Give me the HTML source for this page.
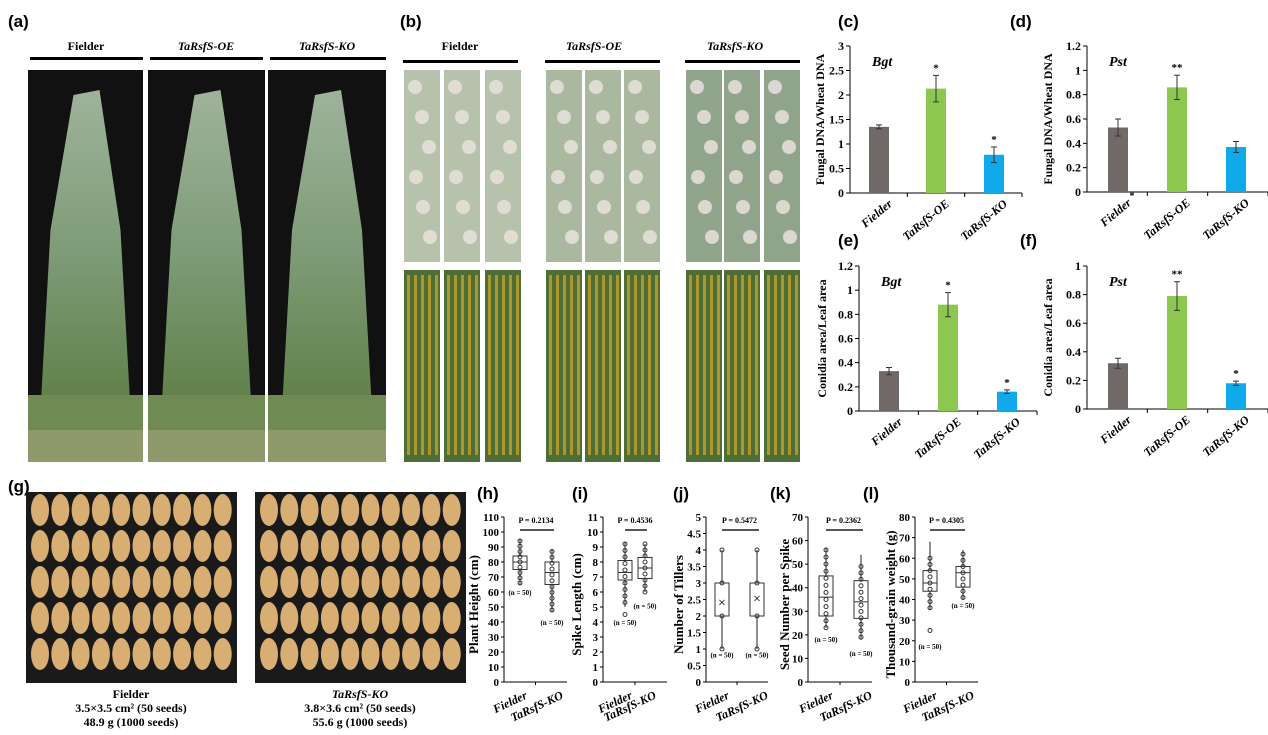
<!DOCTYPE html>
<html><head><meta charset="utf-8"><style>
html,body{margin:0;padding:0;background:#fff}
svg{display:block;font-family:"Liberation Serif",serif}
</style></head><body>
<svg id="s" width="1268" height="735" viewBox="0 0 1268 735" xmlns="http://www.w3.org/2000/svg"></svg>
<script>
const s=document.getElementById('s');let h='';
function t(x,y,str,o={}){h+=`<text x="${x}" y="${y}" font-size="${o.fs||13}" ${o.it?'font-style="italic"':''} font-weight="${o.w||'bold'}" text-anchor="${o.a||'middle'}" fill="${o.c||'#000'}" ${o.r!=null?`transform="rotate(${o.r} ${x} ${y})"`:''} ${o.ff?`font-family="${o.ff}"`:''}>${str}</text>`;}
function r(x,y,w,hh,c,ex=''){h+=`<rect x="${x}" y="${y}" width="${w}" height="${hh}" fill="${c}" ${ex}/>`;}
function l(x1,y1,x2,y2,c='#000',w=1){h+=`<line x1="${x1}" y1="${y1}" x2="${x2}" y2="${y2}" stroke="${c}" stroke-width="${w}"/>`;}
const SANS='Liberation Sans';
t(8,27,'(a)',{fs:17,a:'start',ff:SANS});
[[86,30,143,'Fielder',0],[206,150,263,'TaRsfS-OE',1],[327,270,386,'TaRsfS-KO',1]].forEach(g=>{t(g[0],50,g[3],{fs:12,it:g[4]});r(g[1],57,g[2]-g[1],3,'#000');});
[[28,143],[148,265],[268,386]].forEach(p=>{
 r(p[0],70,p[1]-p[0],392,'#111');
 h+=`<defs><linearGradient id="g${p[0]}" x1="0" y1="0" x2="0" y2="1"><stop offset="0" stop-color="#9fb39a"/><stop offset=".5" stop-color="#7e9c78"/><stop offset="1" stop-color="#5f7f47"/></linearGradient></defs>`;
 const c=(p[0]+p[1])/2;
 h+=`<polygon points="${c-12},95 ${c+14},90 ${c+35},230 ${c+45},410 ${c-45},410 ${c-35},230" fill="url(#g${p[0]})"/>`;
 r(p[0],395,p[1]-p[0],67,'#6f8a52');r(p[0],430,p[1]-p[0],32,'#8e9a6c');
});
t(400,27,'(b)',{fs:17,a:'start',ff:SANS});
[[460,403,518,'Fielder',0],[594,545,660,'TaRsfS-OE',1],[735,685,800,'TaRsfS-KO',1]].forEach(g=>{t(g[0],50,g[3],{fs:12,it:g[4]});r(g[1],60,g[2]-g[1],3,'#000');});
[[404,444,485],[546,585,624],[686,724,764]].forEach((gg,gi)=>gg.forEach((x,i)=>{
 r(x,70,36,192,['#b7c2ad','#aab8a0','#8fa48a'][gi]);
 for(let k=0;k<6;k++)r(x+4+((k*7)%20),80+k*30,14,14,'#e8e2dc','rx="7" opacity=".85"');
 r(x,270,36,192,'#4f6e35');
 for(let k=0;k<5;k++)r(x+3+k*7,275,3,180,'#c9a62a','opacity=".75"');
}));
function bar(ax,y0,ytop,xend,max,step,lbl,ylab,yx,bars,letter,lx,ly){
 t(lx,ly,letter,{fs:17,a:'start',ff:SANS});
 l(ax,ytop,ax,y0);l(ax,y0,xend,y0);
 const sc=(y0-ytop)/max;
 for(let v=0;v<=max+1e-9;v+=step){const y=y0-v*sc;l(ax-4,y,ax,y);t(ax-6,y+4,(+v.toFixed(2)).toString(),{fs:12,a:'end'});}
 const n=3,seg=(xend-ax)/n;for(let i=1;i<=n;i++)l(ax+seg*i,y0,ax+seg*i,y0+4);
 t(ax+22,ytop+20,lbl,{fs:14,it:1,a:'start'});
 t(yx,(y0+ytop)/2,ylab,{fs:12,r:-90});
 const cols=['#716868','#8cc850','#10aaeb'],nm=['Fielder','TaRsfS-OE','TaRsfS-KO'];
 bars.forEach((b,i)=>{const cx=b[0],v=b[1],e=b[2];r(cx-10,y0-v*sc,20,v*sc,cols[i]);
  l(cx,y0-(v+e)*sc,cx,y0-(v-e)*sc,'#333');l(cx-3,y0-(v+e)*sc,cx+3,y0-(v+e)*sc,'#333');l(cx-3,y0-(v-e)*sc,cx+3,y0-(v-e)*sc,'#333');
  if(b[3])t(cx,y0-(v+e)*sc-4,b[3],{fs:11});
  t(cx+14,y0+12,nm[i],{fs:12,it:1,a:'end',r:-40});});
}
bar(850,193,46,1022,3,0.5,'Bgt','Fungal DNA/Wheat DNA',824,[[879,1.35,.04],[936,2.13,.27,'*'],[994,.78,.16,'*']],'(c)',838,27);
bar(1087,192,46,1268,1.2,0.2,'Pst','Fungal DNA/Wheat DNA',1052,[[1118,.53,.07],[1177,.86,.1,'**'],[1236,.37,.045]],'(d)',1010,27);
bar(859,411,266,1037,1.2,0.2,'Bgt','Conidia area/Leaf area',826,[[889,.33,.03],[948,.88,.1,'*'],[1007,.16,.015,'*']],'(e)',838,246);
bar(1087,409,266,1268,1,0.2,'Pst','Conidia area/Leaf area',1052,[[1118,.32,.035],[1177,.79,.1,'**'],[1236,.18,.015,'*']],'(f)',1020,246);
t(1132,199,'*',{fs:10});
t(8,492,'(g)',{fs:17,a:'start',ff:SANS});
[[26,131,'Fielder','3.5×3.5 cm² (50 seeds)','48.9 g (1000 seeds)',0],[255,360,'TaRsfS-KO','3.8×3.6 cm² (50 seeds)','55.6 g (1000 seeds)',1]].forEach(p=>{
 r(p[0],492,211,191,'#1a1a1a');
 for(let i=0;i<10;i++)for(let j=0;j<5;j++)h+=`<ellipse cx="${p[0]+14+i*20.3}" cy="${510+j*36}" rx="9" ry="16" fill="#d8ae72"/>`;
 t(p[1],698,p[2],{fs:12,it:p[5]});t(p[1],712,p[3],{fs:12});t(p[1],726,p[4],{fs:12});
});
function box(ax,xend,max,step,ylab,yx,pstr,c1,c2,b1,b2,letter,lx){
 const y0=682,yt=517,sc=(y0-yt)/max;
 t(lx,499,letter,{fs:17,a:'start',ff:SANS});
 l(ax,yt,ax,y0);l(ax,y0,xend,y0);
 for(let v=0;v<=max+1e-9;v+=step){const y=y0-v*sc;l(ax-3,y,ax,y);t(ax-5,y+4,(+v.toFixed(2)).toString(),{fs:11,a:'end'});}
 l((ax+xend)/2,y0,(ax+xend)/2,y0+3);
 t(yx,(y0+yt)/2+5,ylab,{fs:13,r:-90});
 l(c1,530,c2+2,530,'#555',2);t((c1+c2)/2,523,pstr,{fs:8});
 [[c1,b1],[c2,b2]].forEach(([c,b])=>{const Y=v=>y0-v*sc;
  l(c,Y(b[0]),c,Y(b[4]),'#222');r(c-7,Y(b[3]),14,Y(b[1])-Y(b[3]),'#fff','stroke="#333"');l(c-7,Y(b[2]),c+7,Y(b[2]),'#333');
  (b[6]||[]).forEach(v=>h+=`<circle cx="${c}" cy="${Y(v)}" r="2" fill="none" stroke="#333"/>`);
  t(c,Y(b[5]),'(n = 50)',{fs:7});});
 t(c1+8,y0+16,'Fielder',{fs:12,it:1,a:'end',r:-25});t(c2+12,y0+16,'TaRsfS-KO',{fs:12,it:1,a:'end',r:-25});
}
const rng=(a,b,n)=>Array.from({length:n},(_,i)=>a+(b-a)*i/(n-1));
box(504,567,110,10,'Plant Height (cm)',478,'P = 0.2134',520,552,[65,75,80,84,95,58,rng(66,94,9)],[47,65,73,80,88,38,rng(48,87,11)],'(h)',477);
box(603,667,11,1,'Spike Length (cm)',581,'P = 0.4536',625,645,[5,6.8,7.3,8.1,9.3,3.8,rng(5.3,9.2,10).concat([4.5])],[6,6.9,7.6,8.3,9.2,4.9,rng(6,9.2,9)],'(i)',572);
box(706,768,5,0.5,'Number of Tillers',683,'P = 0.5472',722,757,[1,2,2,3,4,0.75,[1,2,3,4]],[1,2,2,3,4,0.75,[1,2,3,4]],'(j)',673);
t(722,607,'×',{fs:14,w:'normal'});t(757,603,'×',{fs:14,w:'normal'});
box(808,872,70,10,'Seed Number per Spike',789,'P = 0.2362',826,861,[23,28,36,45,57,17,rng(23,56,12)],[18,27,34,43,54,11,rng(19,49,12)],'(k)',770);
box(915,978,80,10,'Thousand-grain weight (g)',895,'P = 0.4305',930,963,[35,44,48,54,68,16,rng(36,60,9).concat([25])],[40,46,53,56,64,36,rng(41,62,8)],'(l)',863);
s.innerHTML=h;
</script>
</body></html>
